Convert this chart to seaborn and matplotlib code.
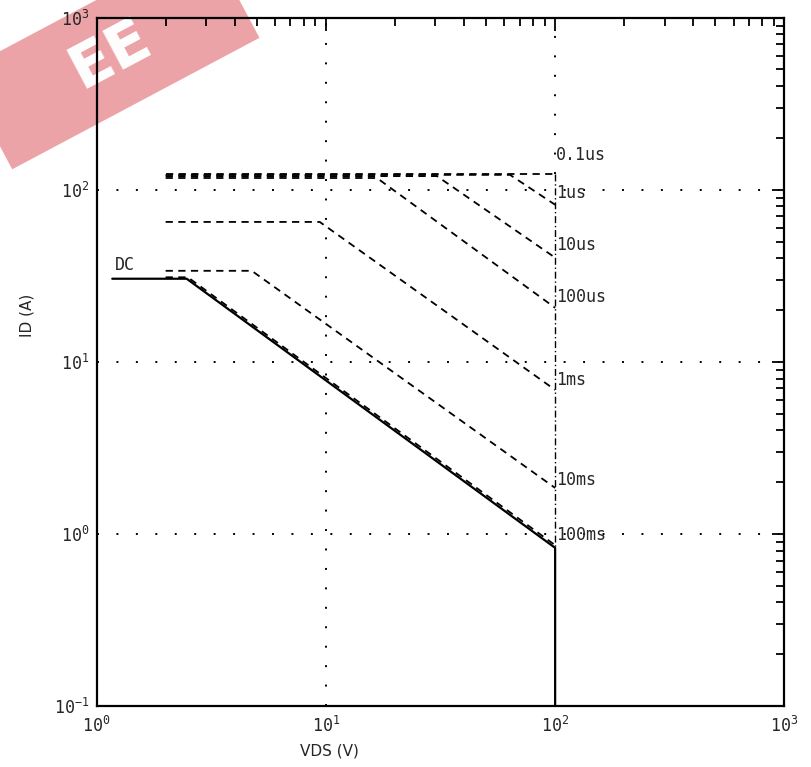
import numpy as np
import pandas as pd
import matplotlib
matplotlib.use("Agg")
import matplotlib.pyplot as plt
import matplotlib.ticker as mticker
from matplotlib.patches import Rectangle
from matplotlib.transforms import IdentityTransform
import seaborn as sns

# pulse curves of the SOA plot
pulse_names = ["0.1us", "1us", "10us", "100us", "1ms", "10ms", "100ms"]
flat_id = [124, 122, 120, 117, 65, 33.8, 31]
knee_vds = [100, 63.6, 30.5, 16.7, 9.4, 4.75, 2.5]
end_id = [124, 81.8, 40.3, 20.6, 6.87, 1.85, 0.86]
start_vds = 2.0
label_id = [160, 96, 48, 23.9, 7.85, 2.06, 0.99]

# DC curve
dc_vds = [1.17, 2.47, 100, 100]
dc_id = [30.4, 30.4, 0.83, 0.1]

xticks = [1, 10, 100, 1000]
yticks = [0.1, 1, 10, 100, 1000]

sns.set_style("white")
plt.rcParams["font.family"] = ["DejaVu Sans Mono", "DejaVu Sans"]
plt.rcParams["mathtext.default"] = "regular"

fig = plt.figure(figsize=(8.12, 7.67), dpi=100)
ax = fig.add_axes([0.119, 0.0795, 0.847, 0.8975])
ax.set_facecolor("none")

rows = []
for name, fi, kv, ei in zip(pulse_names, flat_id, knee_vds, end_id):
    for v, i in zip([start_vds, kv, 100], [fi, fi, ei]):
        rows.append({"curve": name, "vds": v, "id": i})
df = pd.DataFrame(rows)

for name in pulse_names:
    sub = df[df["curve"] == name]
    sns.lineplot(data=sub, x="vds", y="id", sort=False, estimator=None,
                 color="black", lw=1.3, linestyle=(0, (4, 3)), ax=ax)

sns.lineplot(x=dc_vds, y=dc_id, sort=False, estimator=None,
             color="black", lw=1.6, ax=ax)

# dashed boundary at VDS max
sns.lineplot(x=[100, 100], y=[flat_id[0], dc_id[-2]], sort=False, estimator=None,
             color="black", lw=1.0, linestyle=(0, (5, 2, 1, 2)), ax=ax)

ax.set_xscale("log")
ax.set_yscale("log")
ax.set_xlim(1, 1000)
ax.set_ylim(0.1, 1000)

# dotted decade grid
ax.axvline(10, color="black", lw=1.4, linestyle=(0, (1, 9)), zorder=0)
ax.plot([100, 100], [flat_id[0], 1000], color="black", lw=1.4,
        linestyle=(0, (1, 9)), zorder=0)
for y in [1, 10, 100]:
    ax.axhline(y, color="black", lw=1.4, linestyle=(0, (1, 9)), zorder=0)

for name, y in zip(pulse_names, label_id):
    ax.text(101, y, name, fontsize=12, va="center", ha="left")
ax.text(1.2, 36.6, "DC", fontsize=12, va="center", ha="left")

ax.xaxis.set_major_locator(mticker.FixedLocator(xticks))
ax.yaxis.set_major_locator(mticker.FixedLocator(yticks))
ax.xaxis.set_major_formatter(mticker.LogFormatterSciNotation())
ax.yaxis.set_major_formatter(mticker.LogFormatterSciNotation())
ax.xaxis.set_minor_locator(mticker.LogLocator(base=10, subs=np.arange(2, 10)))
ax.yaxis.set_minor_locator(mticker.LogLocator(base=10, subs=np.arange(2, 10)))
ax.xaxis.set_minor_formatter(mticker.NullFormatter())
ax.yaxis.set_minor_formatter(mticker.NullFormatter())
ax.tick_params(which="both", direction="in", top=True, right=True,
               color="black", width=1.3, labelsize=12)
ax.tick_params(which="major", length=9)
ax.tick_params(which="minor", length=6)
ax.tick_params(axis="x", which="major", pad=7)
ax.tick_params(axis="y", which="major", pad=5)
for s in ax.spines.values():
    s.set_color("black")
    s.set_linewidth(1.6)

ax.set_xlabel("VDS (V)", fontsize=11, family="Liberation Sans Narrow")
ax.set_ylabel("ID (A)", fontsize=11, family="Liberation Sans Narrow")
ax.xaxis.set_label_coords(0.339, -0.055)
ax.yaxis.set_label_coords(-0.09, 0.568)

# watermark logo at top left, behind the axes (pixel coords)
band = Rectangle((110 - 140, 712 - 55), 280, 110, angle=28,
                 rotation_point="center", facecolor="#eba3a7",
                 edgecolor="none", transform=IdentityTransform(), zorder=-5)
fig.add_artist(band)
fig.text(110, 712, "EE", transform=IdentityTransform(), rotation=28,
         fontsize=44, color="white", weight="bold", family="DejaVu Sans",
         ha="center", va="center", rotation_mode="anchor", zorder=-4)

fig.savefig("out.png", dpi=100)
